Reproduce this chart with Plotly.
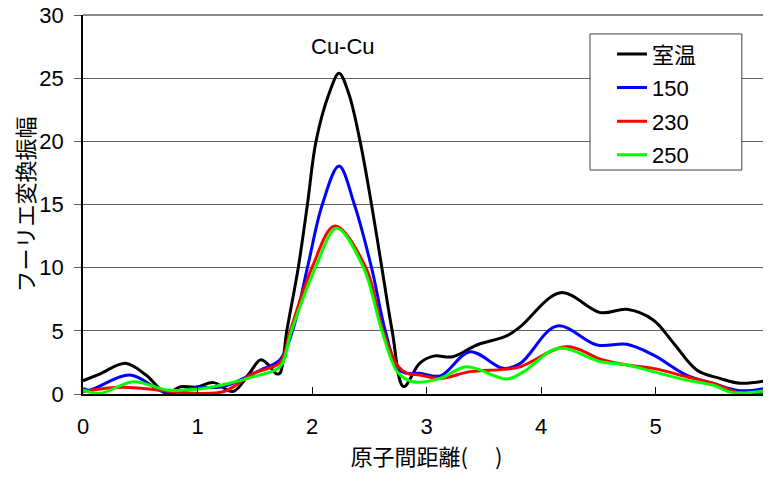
import plotly.graph_objects as go

series_names = ["室温", "150", "230", "250"]
series_colors = ["#000000", "#0000FF", "#FF0000", "#00FF00"]

x_rt = [0.0, 0.15, 0.37, 0.55, 0.73, 0.85, 0.99, 1.14, 1.31, 1.45, 1.55, 1.62, 1.69, 1.72, 1.78, 1.88, 1.96, 2.035, 2.15, 2.236, 2.32, 2.42, 2.52, 2.61, 2.70, 2.80, 2.94, 3.06, 3.23, 3.44, 3.70, 3.82, 4.17, 4.52, 4.75, 4.98, 5.16, 5.36, 5.56, 5.74, 6.0]
y_rt = [1.05, 1.6, 2.43, 1.5, 0.05, 0.58, 0.55, 0.9, 0.2, 1.6, 2.7, 2.3, 1.6, 1.64, 5.0, 10.0, 15.0, 20.0, 23.8, 25.39, 23.8, 20.0, 15.0, 10.0, 5.0, 0.58, 2.43, 3.0, 2.95, 3.88, 4.6, 5.33, 8.02, 6.44, 6.7, 5.86, 4.0, 1.9, 1.24, 0.85, 1.1]

x_150 = [0.0, 0.05, 0.41, 0.73, 0.99, 1.23, 1.55, 1.72, 1.83, 1.96, 2.09, 2.236, 2.37, 2.52, 2.64, 2.75, 2.83, 2.94, 3.12, 3.38, 3.67, 3.82, 4.14, 4.49, 4.75, 4.98, 5.27, 5.50, 5.74, 6.0]
y_150 = [0.45, 0.3, 1.5, 0.1, 0.5, 0.6, 1.9, 2.7, 5.0, 10.0, 15.0, 18.05, 15.0, 10.0, 5.0, 2.0, 1.64, 1.64, 1.43, 3.35, 2.03, 2.43, 5.38, 3.88, 3.93, 3.09, 1.5, 0.85, 0.26, 0.53]

x_230 = [0.0, 0.35, 0.9, 1.23, 1.49, 1.72, 1.81, 2.0, 2.20, 2.47, 2.62, 2.75, 2.83, 2.94, 3.12, 3.38, 3.67, 3.82, 4.22, 4.54, 4.75, 4.98, 5.27, 5.50, 5.74, 6.0]
y_230 = [0.2, 0.53, 0.1, 0.2, 1.64, 2.5, 5.0, 10.0, 13.3, 10.0, 5.0, 2.2, 1.64, 1.5, 1.24, 1.77, 1.95, 2.16, 3.75, 2.69, 2.3, 2.03, 1.37, 0.85, 0.1, 0.2]

x_250 = [0.0, 0.15, 0.44, 0.73, 0.99, 1.28, 1.49, 1.72, 1.82, 2.03, 2.216, 2.45, 2.61, 2.75, 2.88, 3.12, 3.35, 3.70, 3.85, 4.15, 4.52, 4.75, 4.98, 5.27, 5.50, 5.68, 6.0]
y_250 = [0.32, 0.05, 0.97, 0.32, 0.37, 0.85, 1.37, 2.16, 5.0, 10.0, 13.12, 10.0, 5.0, 1.7, 0.97, 1.24, 2.16, 1.19, 1.77, 3.62, 2.56, 2.3, 1.77, 1.1, 0.71, 0.1, 0.32]

xs = [x_rt, x_150, x_230, x_250]
ys = [y_rt, y_150, y_230, y_250]

x_ticks = [0, 1, 2, 3, 4, 5, 6]
y_ticks = [0, 5, 10, 15, 20, 25, 30]

annot_text = "Cu-Cu"
annot_x, annot_y = 2.27, 27.5

fig = go.Figure()
for i, (name, color, x, y) in enumerate(zip(series_names, series_colors, xs, ys)):
    fig.add_trace(go.Scatter(x=x, y=y, name=name, mode="lines", legendgroup=f"g{i}",
                             line=dict(color=color, width=3, shape="spline", smoothing=1.0)))

fig.add_annotation(x=annot_x, y=annot_y, text=annot_text, showarrow=False,
                   font=dict(size=22, color="black", family="Liberation Sans, Arial"))

# top gridline at the upper edge of the plot area (not clipped)
fig.add_shape(type="line", xref="paper", yref="paper", x0=0, x1=1, y0=1, y1=1,
              line=dict(color="#606060", width=1.5), layer="above")

# legend frame
fig.add_shape(type="rect", xref="paper", yref="paper",
              x0=0.738, x1=0.959, y0=0.591, y1=0.950,
              line=dict(color="#404040", width=1), fillcolor="white", layer="above")

# page body has an 8px default margin; figure is sized/offset to compensate
fig.update_layout(
    width=763, height=471,
    margin=dict(l=75, r=1, t=7, b=85),
    paper_bgcolor="white", plot_bgcolor="white",
    font=dict(family="Liberation Sans, Arial", size=22, color="black"),
    legend=dict(x=0.770, y=0.952, xanchor="left", yanchor="top",
                bgcolor="rgba(0,0,0,0)", borderwidth=0,
                font=dict(size=22, family="Liberation Sans, Noto Sans CJK JP"),
                tracegroupgap=2),
    showlegend=True,
)
fig.update_xaxes(range=[0, 6], tickvals=x_ticks, ticks="inside", ticklen=7,
                 tickcolor="black", showline=True, linecolor="black", linewidth=1.5,
                 showgrid=False, zeroline=False, ticklabelstandoff=12, automargin=False,
                 ticklabeloverflow="allow",
                 title=dict(text="原子間距離(　 )", font=dict(family="Noto Sans CJK JP", size=22), standoff=11))
fig.update_yaxes(range=[0, 30], tickvals=y_ticks, ticks="outside", ticklen=7,
                 tickcolor="#606060", showline=True, linecolor="black", linewidth=1.5,
                 showgrid=True, gridcolor="#606060", gridwidth=1.2, zeroline=False,
                 ticklabelstandoff=6, automargin=False, ticklabeloverflow="allow",
                 title=dict(text="フーリエ変換振幅", font=dict(family="Noto Sans CJK JP", size=22), standoff=6))

fig.write_html("out.html")
